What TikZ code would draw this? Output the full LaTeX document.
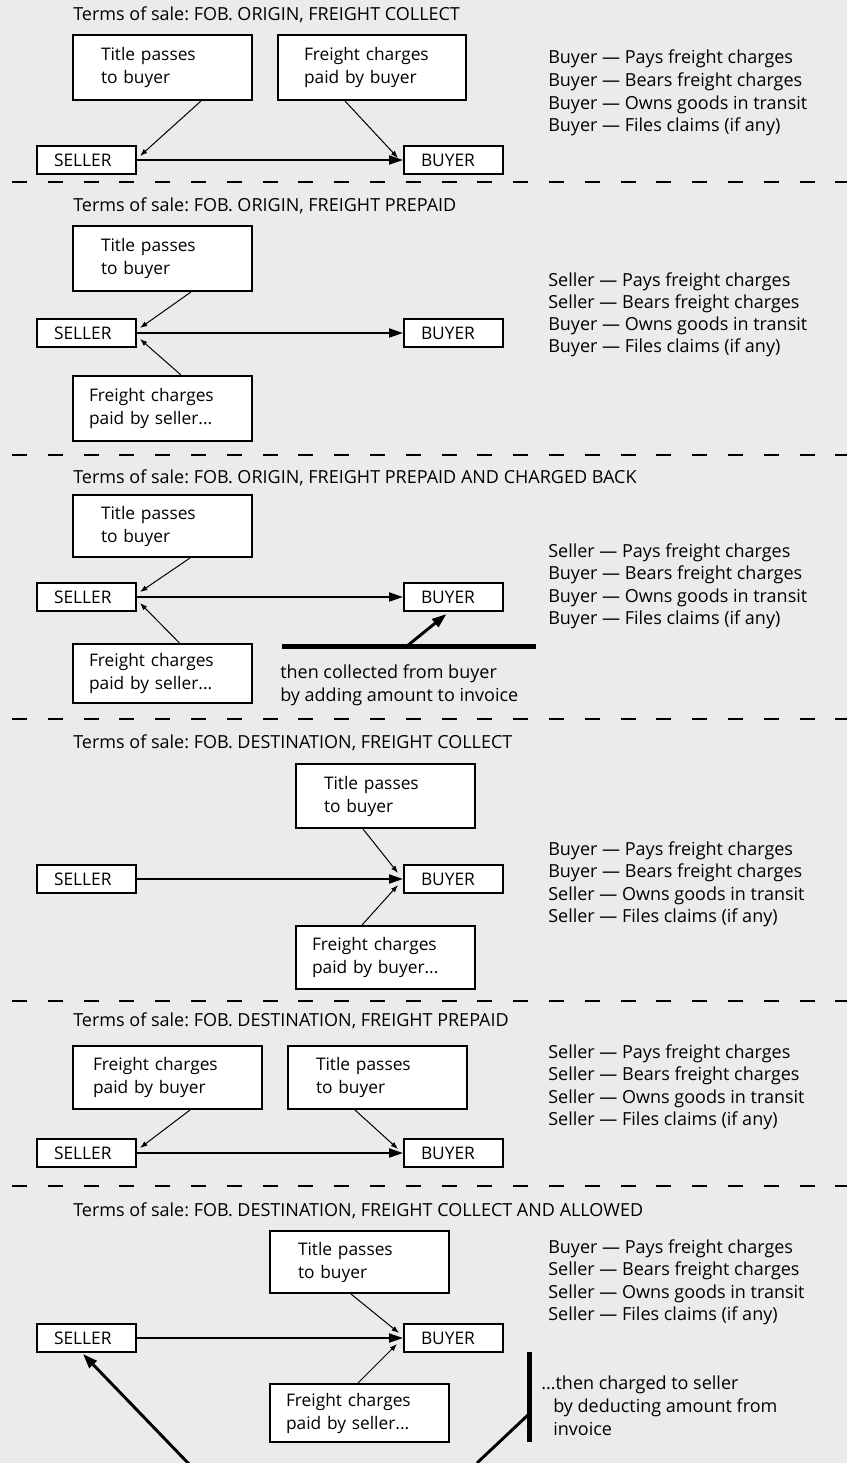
\documentclass[tikz,border=0pt]{standalone}
\usepackage{fontspec}
\setmainfont{Open Sans}
\usetikzlibrary{arrows.meta,calc}
\definecolor{bgc}{HTML}{EBEBED}
\newlength\upx
\setlength\upx{0.75pt}
\frenchspacing
\begin{document}
\begin{tikzpicture}[x=0.75pt,y=-0.75pt,
 every node/.style={font=\fontsize{13}{17.25}\selectfont},
 lbl/.style={anchor=base west, inner sep=0pt, font=\fontsize{13.5}{17.25}\selectfont},
 bx/.style={draw, fill=white, line width=1.5pt, anchor=north west, align=left, inner ysep=0pt},
 big/.style={bx, inner xsep=28\upx, text width=123\upx, minimum height=#1\upx},
 bigw/.style={bx, inner xsep=26\upx, text width=136\upx, minimum height=#1\upx},
 bigv/.style={bx, inner xsep=20\upx, text width=149\upx, minimum height=#1\upx},
 fbox/.style={bx, inner xsep=16\upx, text width=147\upx, minimum height=#1\upx},
 party/.style={bx, inner xsep=17\upx, text width=65\upx, minimum height=28\upx},
 flow/.style={line width=1.5pt, -{Triangle[length=10.5pt,width=6.75pt]}},
 ptr/.style={line width=0.75pt, -{Latex[length=5.5pt,width=4pt]}},
 heavy/.style={line width=2.2pt, -{Triangle[length=11pt,width=7.5pt]}},
 bar/.style={line width=3.75pt},
 sep/.style={line width=1.9pt, dash pattern=on 11.25pt off 15.6pt}
]
\fill[bgc] (0,0) rectangle (847,1463);
\useasboundingbox (0,0) rectangle (847,1463);

% separators
\foreach \yy/\nm in {182/1,455/2,719/3,1001/4,1186/5}{
  \coordinate (d\nm a) at (12,\yy);
  \coordinate (d\nm b) at (847,\yy);
  \draw[sep] (d\nm a) -- (d\nm b);
}

% ---------- Section 1
\node[lbl] (t1) at (73,21) {Terms of sale: FOB. ORIGIN, FREIGHT COLLECT};
\node[big=65] (a1) at (72,34) {Title passes\\to buyer};
\node[bigw=65] (b1) at (277,34) {Freight charges\\paid by buyer};
\node[party] (s1) at (36,145) {SELLER};
\node[party] (u1) at (403,145) {BUYER};
\draw[flow] (s1) -- (u1);
\draw[ptr] ($(a1.south)+(38.5,0)$) -- ($(s1.east)+(3,-4)$);
\draw[ptr] ($(b1.south)+(-27,0)$) -- ($(u1.west)+(-5,-2)$);
\node[lbl] (r1a) at (548,64) {Buyer — Pays freight charges};
\node[lbl] (r1b) at (548,86.5) {Buyer — Bears freight charges};
\node[lbl] (r1c) at (548,109) {Buyer — Owns goods in transit};
\node[lbl] (r1d) at (548,131.5) {Buyer — Files claims (if any)};

% ---------- Section 2
\node[lbl] (t2) at (73,211) {Terms of sale: FOB. ORIGIN, FREIGHT PREPAID};
\node[big=65] (a2) at (72,225) {Title passes\\to buyer};
\node[party] (s2) at (36,318) {SELLER};
\node[party] (u2) at (403,318) {BUYER};
\node[fbox=65] (f2) at (72,375) {Freight charges\\paid by seller...};
\draw[flow] (s2) -- (u2);
\draw[ptr] ($(a2.south)+(28.5,0)$) -- ($(s2.east)+(3,-5)$);
\draw[ptr] ($(f2.north)+(18.5,0)$) -- ($(s2.east)+(3,6)$);
\node[lbl] (r2a) at (548,286) {Seller — Pays freight charges};
\node[lbl] (r2b) at (548,308) {Seller — Bears freight charges};
\node[lbl] (r2c) at (548,330) {Buyer — Owns goods in transit};
\node[lbl] (r2d) at (548,352) {Buyer — Files claims (if any)};

% ---------- Section 3
\node[lbl] (t3) at (73,483) {Terms of sale: FOB. ORIGIN, FREIGHT PREPAID AND CHARGED BACK};
\node[big=62] (a3) at (72,494) {Title passes\\to buyer};
\node[party] (s3) at (36,582) {SELLER};
\node[party] (u3) at (403,582) {BUYER};
\node[fbox=59] (f3) at (72,643) {Freight charges\\paid by seller...};
\draw[flow] (s3) -- (u3);
\draw[ptr] ($(a3.south)+(27.5,0)$) -- ($(s3.east)+(3,-5)$);
\draw[ptr] ($(f3.north)+(17,0)$) -- ($(s3.east)+(3,6)$);
\coordinate (h3a) at (282,646);
\coordinate (h3b) at (536,646);
\coordinate (h3m) at (407,646);
\draw[bar] (h3a) -- (h3b);
\draw[heavy] (h3m) -- ($(u3.south)+(-7,2)$);
\node[lbl] (c3a) at (280,678) {then collected from buyer};
\node[lbl] (c3b) at (280,701) {by adding amount to invoice};
\node[lbl] (r3a) at (548,557) {Seller — Pays freight charges};
\node[lbl] (r3b) at (548,579) {Buyer — Bears freight charges};
\node[lbl] (r3c) at (548,602) {Buyer — Owns goods in transit};
\node[lbl] (r3d) at (548,624) {Buyer — Files claims (if any)};

% ---------- Section 4
\node[lbl] (t4) at (73,748) {Terms of sale: FOB. DESTINATION, FREIGHT COLLECT};
\node[big=64] (a4) at (295,763) {Title passes\\to buyer};
\node[party] (s4) at (36,864) {SELLER};
\node[party] (u4) at (403,864) {BUYER};
\node[fbox=63] (f4) at (295,925) {Freight charges\\paid by buyer...};
\draw[flow] (s4) -- (u4);
\draw[ptr] ($(a4.south)+(-22.5,0)$) -- ($(u4.west)+(-5,-6)$);
\draw[ptr] ($(f4.north)+(-23.5,0)$) -- ($(u4.west)+(-5,6)$);
\node[lbl] (r4a) at (548,855) {Buyer — Pays freight charges};
\node[lbl] (r4b) at (548,877) {Buyer — Bears freight charges};
\node[lbl] (r4c) at (548,900) {Seller — Owns goods in transit};
\node[lbl] (r4d) at (548,922) {Seller — Files claims (if any)};

% ---------- Section 5
\node[lbl] (t5) at (73,1026) {Terms of sale: FOB. DESTINATION, FREIGHT PREPAID};
\node[bigv=63] (f5) at (72,1045) {Freight charges\\paid by buyer};
\node[big=63] (a5) at (287,1045) {Title passes\\to buyer};
\node[party] (s5) at (36,1138) {SELLER};
\node[party] (u5) at (403,1138) {BUYER};
\draw[flow] (s5) -- (u5);
\draw[ptr] ($(f5.south)+(22.5,0)$) -- ($(s5.east)+(3,-5)$);
\draw[ptr] ($(a5.south)+(-22.5,0)$) -- ($(u5.west)+(-5,-4)$);
\node[lbl] (r5a) at (548,1058) {Seller — Pays freight charges};
\node[lbl] (r5b) at (548,1080) {Seller — Bears freight charges};
\node[lbl] (r5c) at (548,1103) {Seller — Owns goods in transit};
\node[lbl] (r5d) at (548,1125) {Seller — Files claims (if any)};

% ---------- Section 6
\node[lbl] (t6) at (73,1216) {Terms of sale: FOB. DESTINATION, FREIGHT COLLECT AND ALLOWED};
\node[big=62] (a6) at (269,1230) {Title passes\\to buyer};
\node[party] (s6) at (36,1323) {SELLER};
\node[party] (u6) at (403,1323) {BUYER};
\node[fbox=58] (f6) at (269,1383) {Freight charges\\paid by seller...};
\draw[flow] (s6) -- (u6);
\draw[ptr] ($(a6.south)+(-8.5,0)$) -- ($(u6.west)+(-4,-5)$);
\draw[ptr] ($(f6.north)+(-1.5,0)$) -- ($(u6.west)+(-6,6)$);
\node[lbl] (r6a) at (548,1253) {Buyer — Pays freight charges};
\node[lbl] (r6b) at (548,1275) {Seller — Bears freight charges};
\node[lbl] (r6c) at (548,1298) {Seller — Owns goods in transit};
\node[lbl] (r6d) at (548,1320) {Seller — Files claims (if any)};
\coordinate (v6a) at (529,1352);
\coordinate (v6b) at (529,1442);
\coordinate (v6m) at (529,1414);
\draw[bar] (v6a) -- (v6b);
\coordinate (g6r) at (477,1463);
\coordinate (g6l) at (189,1464);
\draw[line width=2.2pt] (g6r) -- (v6m);
\draw[heavy] (g6l) -- ($(s6.south)+(-3.5,1)$);
\node[lbl] (c6a) at (541,1389) {...then charged to seller};
\node[lbl] (c6b) at (553,1412) {by deducting amount from};
\node[lbl] (c6c) at (553,1435) {invoice};
\end{tikzpicture}
\end{document}
